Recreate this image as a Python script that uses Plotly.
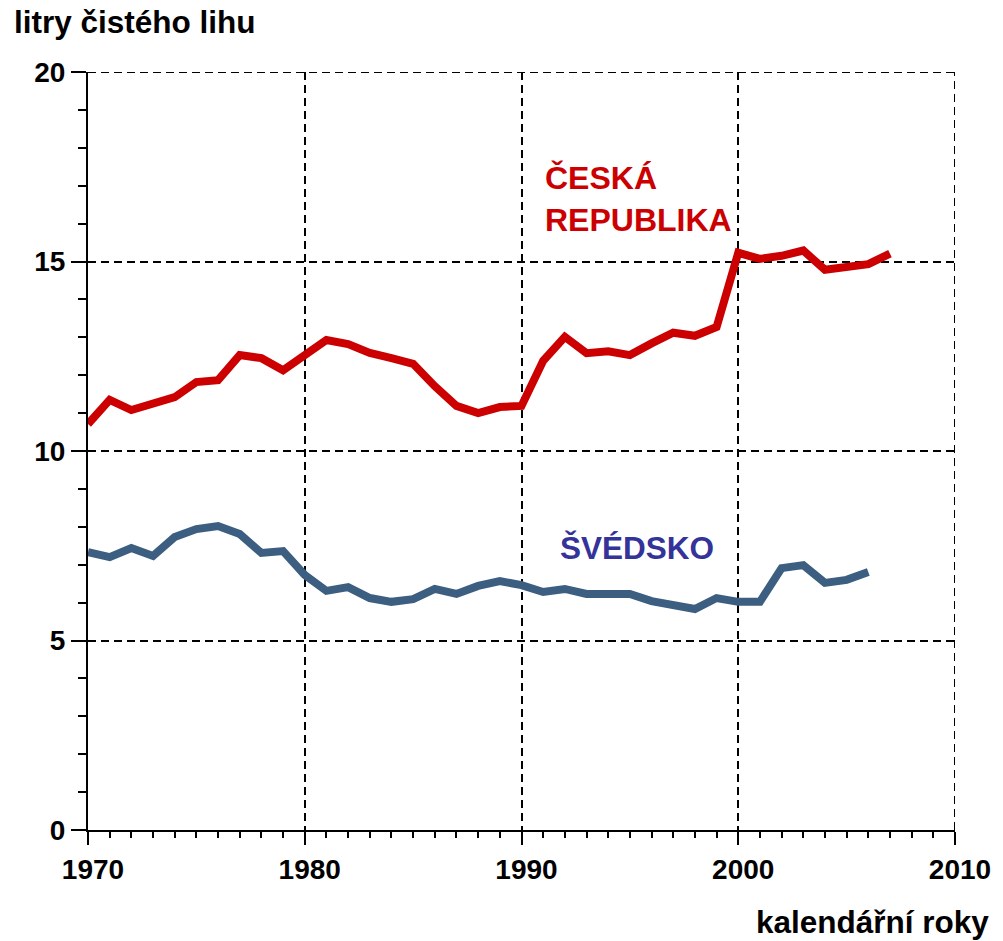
import plotly.graph_objects as go

# Roční spotřeba alkoholu na obyvatele (litry čistého lihu)
years_cz = list(range(1970, 2008))
cz = [10.71, 11.35, 11.08, 11.24, 11.42, 11.82, 11.87, 12.53, 12.45, 12.13,
      12.53, 12.93, 12.82, 12.59, 12.45, 12.30, 11.71, 11.19, 11.00, 11.16,
      11.19, 12.38, 13.01, 12.58, 12.63, 12.53, 12.84, 13.12, 13.04, 13.27,
      15.23, 15.07, 15.15, 15.29, 14.78, 14.83, 14.93, 15.21]

years_se = list(range(1970, 2007))
se = [7.33, 7.20, 7.44, 7.23, 7.73, 7.94, 8.02, 7.81, 7.31, 7.36,
      6.73, 6.31, 6.41, 6.12, 6.02, 6.09, 6.36, 6.23, 6.44, 6.57,
      6.46, 6.28, 6.36, 6.23, 6.23, 6.23, 6.04, 5.94, 5.83, 6.12,
      6.02, 6.02, 6.91, 6.99, 6.52, 6.60, 6.81]

x_ticks = [1970, 1980, 1990, 2000, 2010]
y_ticks = [0, 5, 10, 15, 20]
x_range = [1970, 2010]
y_range = [0, 20]

FONT = "Liberation Sans, Arial, sans-serif"
RED = "#cc0000"
BLUE_LINE = "#3c5e80"
BLUE_TEXT = "#333399"
GRID_DASH = "8px,5px"

fig = go.Figure()
fig.add_trace(go.Scatter(x=years_cz, y=cz, mode="lines",
                         line=dict(color=RED, width=8), showlegend=False))
fig.add_trace(go.Scatter(x=years_se, y=se, mode="lines",
                         line=dict(color=BLUE_LINE, width=8), showlegend=False))

axis_common = dict(
    showline=True, linecolor="black", linewidth=2,
    showgrid=True, gridcolor="black", gridwidth=2, griddash=GRID_DASH,
    zeroline=False, ticks="outside", tickcolor="black", tickwidth=2,
    tickfont=dict(family=FONT, size=28, color="black", weight="bold"),
)

fig.update_xaxes(range=x_range, tickvals=x_ticks, ticklen=13, ticklabelshift=5,
                 minor=dict(dtick=1, ticks="outside", ticklen=6,
                            tickcolor="black", tickwidth=1.5, showgrid=False),
                 **axis_common)
fig.update_yaxes(range=y_range, tickvals=y_ticks, ticklen=15,
                 minor=dict(dtick=1, ticks="outside", ticklen=8,
                            tickcolor="black", tickwidth=1.5, showgrid=False),
                 **axis_common)

# grid lines along the far edges (top and right) of the plot area
grid_line = dict(color="black", width=2, dash=GRID_DASH)
fig.add_shape(type="line", xref="x", yref="y", x0=x_range[1], x1=x_range[1],
              y0=y_range[0], y1=y_range[1], line=grid_line, layer="below")
fig.add_shape(type="line", xref="x", yref="y", x0=x_range[0], x1=x_range[1],
              y0=y_range[1], y1=y_range[1], line=grid_line, layer="below")

fig.add_annotation(text="litry čistého lihu", xref="paper", yref="paper",
                   x=-0.0875, y=1.066, xanchor="left", yanchor="middle",
                   showarrow=False,
                   font=dict(family=FONT, size=31.5, color="black", weight="bold"))
fig.add_annotation(text="kalendářní roky", xref="paper", yref="paper",
                   x=1.0414, y=-0.121, xanchor="right", yanchor="middle",
                   showarrow=False,
                   font=dict(family=FONT, size=31.5, color="black", weight="bold"))
fig.add_annotation(text="ČESKÁ<br>REPUBLIKA", x=1991.0, y=16.66,
                   xanchor="left", yanchor="middle", align="left",
                   showarrow=False,
                   font=dict(family=FONT, size=32, color=RED, weight="bold"))
fig.add_annotation(text="ŠVÉDSKO", x=1991.7, y=7.45,
                   xanchor="left", yanchor="middle", showarrow=False,
                   font=dict(family=FONT, size=31.5, color=BLUE_TEXT, weight="bold"))

fig.update_layout(
    width=1003, height=941,
    margin=dict(l=88, r=46, t=72, b=111),
    paper_bgcolor="white", plot_bgcolor="white",
)

fig.write_html("out.html")
